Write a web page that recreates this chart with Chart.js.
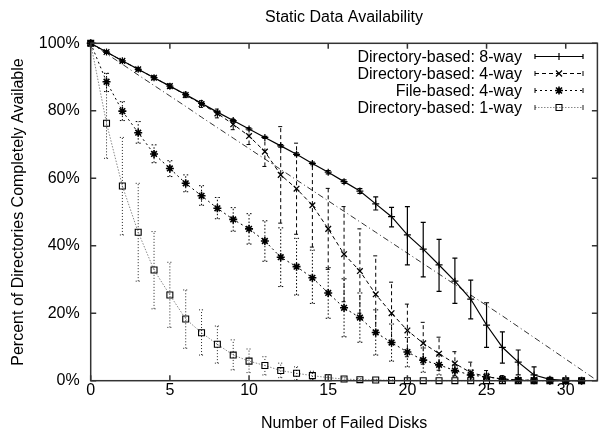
<!DOCTYPE html>
<html><head><meta charset="utf-8">
<script src="https://cdn.jsdelivr.net/npm/chart.js@4/dist/chart.umd.min.js"></script>
<style>html,body{margin:0;padding:0;background:#fff;}canvas{display:block;}</style>
</head><body>
<canvas id="c" width="603" height="432" style="width:603px;height:432px"></canvas>
<script>
const chartTitle = 'Static Data Availability';
const xTitle = 'Number of Failed Disks';
const yTitle = 'Percent of Directories Completely Available';
const xTicks = [0, 5, 10, 15, 20, 25, 30];
const yTicks = [0, 20, 40, 60, 80, 100];
const seriesLabels = ['Directory-based: 8-way', 'Directory-based: 4-way', 'File-based: 4-way', 'Directory-based: 1-way'];

const disks = [0,1,2,3,4,5,6,7,8,9,10,11,12,13,14,15,16,17,18,19,20,21,22,23,24,25,26,27,28,29,30,31];
const refDisks = [0,1,2,3,4,5,6,7,8,9,10,11,12,13,14,15,16,17,18,19,20,21,22,23,24,25,26,27,28,29,30,31,32];

const dir8   = [100,97.4,94.8,92.3,89.8,87.3,84.8,82.2,79.6,77.1,74.6,72.1,69.6,67.1,64.4,61.8,59.0,56.2,52.4,48.6,43.2,39.0,34.3,29.5,24.2,16.5,9.9,5.5,1.7,0.4,0.1,0];
const dir8Lo = [100,97.1,94.5,92.0,89.5,87.0,84.5,81.9,79.3,76.8,74.3,71.8,69.2,66.7,64.0,61.3,58.5,55.5,50.6,45.6,34.3,30.8,26.5,22.9,18.3,9.9,5.2,1.7,0.2,0,0,0];
const dir8Hi = [100,97.7,95.1,92.6,90.1,87.6,85.1,82.5,79.9,77.4,74.9,72.4,70.0,67.5,64.8,62.3,59.5,56.9,54.5,51.4,51.6,46.9,41.9,36.3,29.8,23.1,14.5,9.1,4.1,1.0,0.3,0];

const dir4   = [100,97.4,94.8,92.3,89.8,87.3,84.7,82.0,79.2,76.0,72.5,67.9,61.0,56.9,52.0,45.0,37.5,32.5,25.6,20.0,14.9,11.1,8.0,5.1,2.4,1.2,0.5,0.2,0.1,0,0,0];
const dir4Lo = [100,97.0,94.4,91.8,89.2,86.6,83.9,81.0,77.9,74.4,70.0,63.5,46.7,43.4,39.6,33.0,23.4,20.0,14.2,10.8,7.1,4.9,3.1,1.6,0,0,0,0,0,0,0,0];
const dir4Hi = [100,97.8,95.2,92.8,90.4,88.0,85.5,83.0,80.5,77.6,75.0,72.3,75.3,70.4,64.4,57.0,51.6,45.0,37.0,29.2,22.7,17.3,12.9,8.6,5.5,3.0,1.5,0.6,0.3,0,0,0];

const file4   = [100,88.6,79.9,73.5,67.2,62.9,58.5,54.8,51.1,47.8,45.0,41.4,36.6,33.8,30.5,26.0,21.6,18.7,14.3,11.3,8.5,6.1,4.7,3.0,1.7,1.1,0.5,0.2,0.1,0,0,0];
const file4Lo = [100,85.7,77.1,70.4,64.6,60.5,56.0,52.0,48.0,44.3,40.5,35.4,27.9,25.4,22.9,18.5,13.0,11.4,7.6,5.8,4.1,2.5,1.7,1.2,0.2,0,0,0,0,0,0,0];
const file4Hi = [100,91.1,82.7,76.8,69.9,65.2,61.0,57.8,54.3,51.3,49.5,47.4,45.3,42.2,38.7,33.5,30.2,26.0,21.0,16.8,12.8,9.7,7.7,4.8,3.2,2.2,1.2,0.5,0.3,0,0,0];

const dir1   = [100,76.3,57.7,44.0,32.8,25.4,18.3,14.2,10.8,7.6,5.8,4.5,3.0,2.2,1.5,0.9,0.5,0.3,0.2,0.1,0,0,0,0,0,0,0,0,0,0,0,0];
const dir1Lo = [100,65.9,43.2,29.5,21.3,15.8,9.6,7.6,5.2,3.2,2.4,1.7,0.9,0.2,0.2,0,0,0,0,0,0,0,0,0,0,0,0,0,0,0,0,0];
const dir1Hi = [100,91.1,72.1,58.5,44.2,35.1,26.9,21.0,16.2,12.1,9.4,7.1,5.2,4.1,2.8,1.8,1.0,0.6,0.4,0.2,0,0,0,0,0,0,0,0,0,0,0,0];

const refLine = [100,96.9,93.8,90.6,87.5,84.4,81.3,78.1,75.0,71.9,68.8,65.7,62.6,59.5,56.4,53.3,50.2,47.1,44.0,40.9,37.8,34.7,31.6,28.5,25.4,22.3,19.2,16.0,12.8,9.6,6.4,3.2,0];

const FONT = '"Liberation Sans", Arial, Helvetica, sans-serif';

function pts(xs, ys) { return xs.map((x, i) => ({x: x, y: ys[i]})); }

function marker(ctx, style, x, y, r) {
  ctx.beginPath();
  if (style === 'cross' || style === 'star') {
    ctx.moveTo(x - r, y); ctx.lineTo(x + r, y);
    ctx.moveTo(x, y - r); ctx.lineTo(x, y + r);
  }
  if (style === 'crossRot' || style === 'star') {
    const d = r * 0.75;
    ctx.moveTo(x - d, y - d); ctx.lineTo(x + d, y + d);
    ctx.moveTo(x - d, y + d); ctx.lineTo(x + d, y - d);
  }
  if (style === 'rect') {
    const s = r * Math.SQRT1_2;
    ctx.rect(x - s, y - s, 2 * s, 2 * s);
  }
  ctx.stroke();
}

const errorBarPlugin = {
  id: 'errbars',
  beforeDatasetDraw(chart, args) {
    const ds = chart.data.datasets[args.index];
    if (!ds.errLo) return;
    const xs = chart.scales.x, ys = chart.scales.y, ctx = chart.ctx;
    const cap = 2.5;
    ctx.save();
    ctx.strokeStyle = ds.errColor;
    ctx.lineWidth = ds.errWidth;
    ctx.setLineDash(ds.errDash);
    ds.data.forEach((p, i) => {
      const lo = ds.errLo[i], hi = ds.errHi[i];
      if (hi === lo) return;
      const px = xs.getPixelForValue(p.x);
      const y1 = ys.getPixelForValue(lo), y2 = ys.getPixelForValue(hi);
      ctx.beginPath();
      ctx.moveTo(px, y1); ctx.lineTo(px, y2);
      ctx.moveTo(px - cap, y1); ctx.lineTo(px + cap, y1);
      ctx.moveTo(px - cap, y2); ctx.lineTo(px + cap, y2);
      ctx.stroke();
    });
    ctx.restore();
  }
};

const framePlugin = {
  id: 'frame',
  afterDraw(chart) {
    const {ctx, chartArea: a} = chart;
    const xs = chart.scales.x, ys = chart.scales.y;
    const tl = 5.5;
    ctx.save();
    ctx.strokeStyle = '#333';
    ctx.lineWidth = 1.5;
    ctx.setLineDash([]);
    ctx.strokeRect(a.left, a.top, a.right - a.left, a.bottom - a.top);
    ctx.beginPath();
    xTicks.forEach(v => {
      const px = xs.getPixelForValue(v);
      ctx.moveTo(px, a.bottom); ctx.lineTo(px, a.bottom - tl);
      ctx.moveTo(px, a.top); ctx.lineTo(px, a.top + tl);
    });
    yTicks.forEach(v => {
      const py = ys.getPixelForValue(v);
      ctx.moveTo(a.left, py); ctx.lineTo(a.left + tl, py);
      ctx.moveTo(a.right, py); ctx.lineTo(a.right - tl, py);
    });
    ctx.stroke();

    // legend (gnuplot style, inside top right)
    const textRight = 522, x1 = 535, x2 = 583, xm = 559;
    let y = 58;
    ctx.font = '16px ' + FONT;
    ctx.textAlign = 'right';
    ctx.textBaseline = 'middle';
    chart.data.datasets.forEach(ds => {
      if (!ds.inLegend) return;
      ctx.fillStyle = '#000';
      ctx.fillText(ds.label, textRight, y);
      const ly = y - 1.5;
      ctx.strokeStyle = ds.borderColor;
      ctx.lineWidth = ds.borderWidth;
      ctx.setLineDash(ds.borderDash || []);
      ctx.beginPath(); ctx.moveTo(x1, ly); ctx.lineTo(x2, ly); ctx.stroke();
      ctx.strokeStyle = ds.errColor;
      ctx.lineWidth = ds.errWidth;
      ctx.setLineDash([]);
      ctx.beginPath();
      ctx.moveTo(x1, ly - 2.5); ctx.lineTo(x1, ly + 2.5);
      ctx.moveTo(x2, ly - 2.5); ctx.lineTo(x2, ly + 2.5);
      ctx.stroke();
      ctx.strokeStyle = ds.pointBorderColor;
      ctx.lineWidth = ds.pointBorderWidth;
      marker(ctx, ds.pointStyle, xm, ly, ds.pointRadius);
      y += 17;
    });
    ctx.restore();
  }
};

const datasets = [
  {
    label: seriesLabels[0], inLegend: true,
    data: pts(disks, dir8), errLo: dir8Lo, errHi: dir8Hi,
    borderColor: '#000', borderWidth: 1.2, borderDash: [],
    pointStyle: 'cross', pointRadius: 3.5, pointBorderColor: '#000', pointBorderWidth: 1.2,
    pointBackgroundColor: 'rgba(0,0,0,0)',
    errColor: '#000', errWidth: 1.2, errDash: []
  },
  {
    label: seriesLabels[1], inLegend: true,
    data: pts(disks, dir4), errLo: dir4Lo, errHi: dir4Hi,
    borderColor: '#000', borderWidth: 1, borderDash: [4, 3],
    pointStyle: 'crossRot', pointRadius: 4, pointBorderColor: '#000', pointBorderWidth: 1.3,
    pointBackgroundColor: 'rgba(0,0,0,0)',
    errColor: '#000', errWidth: 1, errDash: [4, 3]
  },
  {
    label: seriesLabels[2], inLegend: true,
    data: pts(disks, file4), errLo: file4Lo, errHi: file4Hi,
    borderColor: '#000', borderWidth: 1, borderDash: [2, 3],
    pointStyle: 'star', pointRadius: 4, pointBorderColor: '#000', pointBorderWidth: 1.6,
    pointBackgroundColor: 'rgba(0,0,0,0)',
    errColor: '#000', errWidth: 1, errDash: [1.5, 2]
  },
  {
    label: seriesLabels[3], inLegend: true,
    data: pts(disks, dir1), errLo: dir1Lo, errHi: dir1Hi,
    borderColor: '#888', borderWidth: 1, borderDash: [1.5, 1.5],
    pointStyle: 'rect', pointRadius: 4.2, pointBorderColor: '#000', pointBorderWidth: 1.1,
    pointBackgroundColor: 'rgba(0,0,0,0)',
    errColor: '#222', errWidth: 1, errDash: [1, 2]
  },
  {
    label: 'reference', inLegend: false,
    data: pts(refDisks, refLine),
    borderColor: '#333', borderWidth: 1, borderDash: [6, 3, 1, 3],
    pointRadius: 0
  }
];
datasets.forEach(d => { d.clip = false; d.tension = 0; d.fill = false; d.pointHoverRadius = d.pointRadius; });

new Chart(document.getElementById('c'), {
  type: 'line',
  data: { datasets: datasets },
  options: {
    responsive: false,
    animation: false,
    devicePixelRatio: 1,
    layout: { padding: { left: 0, right: 1, top: 0, bottom: 0 } },
    plugins: {
      legend: { display: false },
      tooltip: { enabled: false },
      title: {
        display: true, text: chartTitle, fullSize: false, color: '#000',
        font: { family: FONT, size: 16, weight: 'normal', lineHeight: 1.2 },
        padding: { top: 8, bottom: 16.1 }
      }
    },
    scales: {
      x: {
        type: 'linear', min: 0, max: 32,
        grid: { display: false, drawTicks: false },
        border: { display: false },
        afterBuildTicks: s => { s.ticks = xTicks.map(v => ({ value: v })); },
        afterFit: s => { s.height = 51.3; },
        ticks: { color: '#000', padding: 0, maxRotation: 0, autoSkip: false,
                 font: { family: FONT, size: 16, lineHeight: 1.2 } },
        title: { display: true, text: xTitle, color: '#000',
                 font: { family: FONT, size: 16, lineHeight: 1 }, padding: { top: 0, bottom: 0 } }
      },
      y: {
        type: 'linear', min: 0, max: 100,
        grid: { display: false, drawTicks: false },
        border: { display: false },
        afterBuildTicks: s => { s.ticks = yTicks.map(v => ({ value: v })); },
        afterFit: s => { s.width = 90.7; },
        ticks: { color: '#000', padding: 11, autoSkip: false,
                 font: { family: FONT, size: 16, lineHeight: 1.2 },
                 callback: v => v + '%' },
        title: { display: true, text: yTitle, color: '#000',
                 font: { family: FONT, size: 16, lineHeight: 1 }, padding: { top: 11, bottom: 0 } }
      }
    }
  },
  plugins: [errorBarPlugin, framePlugin]
});
</script>
</body></html>
